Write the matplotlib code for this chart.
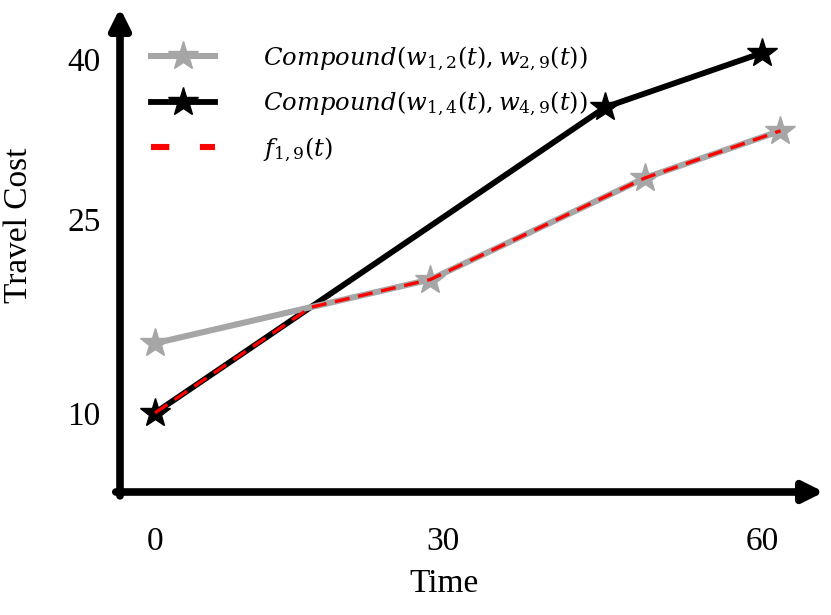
import matplotlib
matplotlib.use('Agg')
import matplotlib.pyplot as plt
from matplotlib.lines import Line2D

# values
gray_t = [0, 27.2, 48.4, 61.8]
gray_cost = [15.9, 21.3, 29.9, 33.9]
black_t = [0, 44.5, 60]
black_cost = [10, 35.9, 40.5]
f_t = [0, 15.4, 27.2, 48.4, 61.8]
f_cost = [10, 18.95, 21.3, 29.9, 33.9]

xtick_pos = [0, 28.4, 60]
xtick_labels = ['0', '30', '60']
ytick_pos = [10, 26.4, 40]
ytick_labels = ['10', '25', '40']

labels = [r'$Compound(w_{1,2}(t),w_{2,9}(t))$',
          r'$Compound(w_{1,4}(t),w_{4,9}(t))$',
          r'$f_{1,9}(t)$']

plt.rcParams['font.family'] = 'Liberation Serif'
plt.rcParams['mathtext.fontset'] = 'dejavuserif'

GRAY = '#a6a6a6'

fig = plt.figure(figsize=(8.31, 6.15), dpi=100)
W, H = 831, 615
# axes box runs from the origin (120, 492) to the arrow tips (824, 8)
ax = fig.add_axes([120 / W, 1 - 492 / H, 704 / W, 484 / H])

ax.plot(black_t, black_cost, color='black', lw=4.2, marker='*', ms=22,
        mec='black', mfc='black', zorder=3)
ax.plot(gray_t, gray_cost, color=GRAY, lw=4.4, marker='*', ms=22,
        mec=GRAY, mfc=GRAY, zorder=4)
ax.plot(f_t, f_cost, color='red', lw=2.4, dashes=(4.5, 2.6), zorder=5)

ax.set_xlim(-3.46, 66.1)
ax.set_ylim(3.3, 44.3)

for s in ax.spines.values():
    s.set_visible(False)

# axes drawn as arrows
ax.annotate('', xy=(1.0, 0), xytext=(-0.006, 0), xycoords='axes fraction',
            arrowprops=dict(arrowstyle='-|>', lw=5.5, color='black',
                            mutation_scale=30, shrinkA=0, shrinkB=0))
ax.annotate('', xy=(0, 1.0), xytext=(0, -0.008), xycoords='axes fraction',
            arrowprops=dict(arrowstyle='-|>', lw=5.5, color='black',
                            mutation_scale=30, shrinkA=0, shrinkB=0))

ax.set_xticks(xtick_pos, xtick_labels, fontsize=24)
ax.set_yticks(ytick_pos, ytick_labels, fontsize=24)
ax.tick_params(axis='both', length=0)
ax.tick_params(axis='x', pad=25)
ax.tick_params(axis='y', pad=14)

ax.set_xlabel('Time', fontsize=24)
ax.xaxis.set_label_coords((444 - 120) / 704, (492 - 568) / 484)
ax.set_ylabel('Travel Cost', fontsize=24)
ax.yaxis.set_label_coords((34 - 120) / 704, (492 - 225) / 484)

handles = [
    Line2D([], [], color=GRAY, lw=4.4, marker='*', ms=22, mec=GRAY, mfc=GRAY),
    Line2D([], [], color='black', lw=4.2, marker='*', ms=22),
    Line2D([], [], color='red', lw=4.4, dashes=(3, 5)),
]
ax.legend(handles, labels, loc='upper left', bbox_to_anchor=(0.0135, 0.97),
          frameon=False, fontsize=17.5, handlelength=2.6, handletextpad=2.0,
          labelspacing=0.7)

fig.savefig('out.png', dpi=100)
